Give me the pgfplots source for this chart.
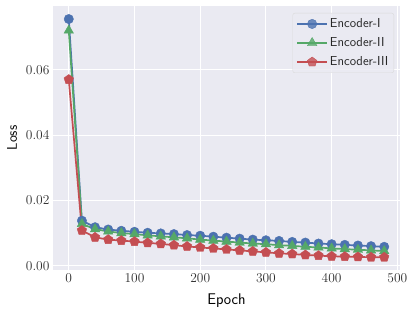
\documentclass[border=0pt]{standalone}
\usepackage{pgfplots}
\pgfplotsset{compat=1.18}
\definecolor{sbblue}{HTML}{4C72B0}
\definecolor{sbgreen}{HTML}{55A868}
\definecolor{sbred}{HTML}{C44E52}
\definecolor{sbbg}{HTML}{EAEAF2}
\begin{document}
\begin{tikzpicture}
\begin{axis}[
  scale only axis, width=347pt, height=264pt,
  xmin=-24, xmax=504, ymin=-0.0013, ymax=0.0795,
  axis background/.style={fill=sbbg},
  axis line style={draw=none},
  grid=major, major grid style={white, line width=1.1pt},
  tick style={draw=none},
  xtick={0,100,200,300,400,500},
  ytick={0,0.02,0.04,0.06},
  /pgf/number format/assume math mode=true,
  yticklabel style={/pgf/number format/fixed, /pgf/number format/fixed zerofill, /pgf/number format/precision=2, font=\fontsize{13.5}{16}\selectfont, text=black!82},
  xticklabel style={font=\fontsize{13.5}{16}\selectfont, text=black!82},
  scaled y ticks=false,
  xlabel={Epoch}, ylabel={Loss},
  xlabel style={font=\fontsize{15.5}{18}\selectfont\sffamily, at={(axis description cs:0.5,-0.115)}, anchor=center},
  ylabel style={font=\fontsize{14}{16}\selectfont\sffamily, at={(axis description cs:-0.118,0.5)}, anchor=center},
  legend style={at={(1,1)}, xshift=-6pt, yshift=-7pt, anchor=north east, draw=black!15, fill=sbbg, fill opacity=0.8, text opacity=1, rounded corners=2pt, font=\fontsize{13}{15}\selectfont\sffamily, row sep=4.5pt, inner sep=3.5pt, text=black!85},
  legend cell align=left,
  legend image code/.code={\draw[line width=1.7pt, mark repeat=2,mark phase=2] plot coordinates {(0cm,0cm) (15pt,0cm) (30pt,0cm)};},
  every axis plot/.append style={line width=1.7pt},
]
\addplot[sbblue, mark=*, mark size=4.7pt, mark options={line width=0.4pt}] coordinates {
(0,0.0755)(20,0.0138)(40,0.0118)(60,0.0111)(80,0.0107)(100,0.0104)(120,0.0101)(140,0.0099)(160,0.0097)(180,0.0094)(200,0.0092)(220,0.0089)(240,0.0086)(260,0.0083)(280,0.0080)(300,0.0078)(320,0.0076)(340,0.0073)(360,0.0071)(380,0.0068)(400,0.0066)(420,0.0064)(440,0.0062)(460,0.0060)(480,0.0058)};
\addlegendentry{Encoder-I}
\addplot[sbgreen, mark=triangle*, mark size=5.5pt, mark options={line width=0.4pt}] coordinates {
(0,0.0720)(20,0.0128)(40,0.0112)(60,0.0105)(80,0.0100)(100,0.0097)(120,0.0093)(140,0.0090)(160,0.0087)(180,0.0084)(200,0.0080)(220,0.0077)(240,0.0074)(260,0.0071)(280,0.0068)(300,0.0066)(320,0.0063)(340,0.0061)(360,0.0058)(380,0.0056)(400,0.0053)(420,0.0051)(440,0.0049)(460,0.0047)(480,0.0045)};
\addlegendentry{Encoder-II}
\addplot[sbred, mark=pentagon*, mark size=5pt, mark options={line width=0.4pt}] coordinates {
(0,0.0570)(20,0.0108)(40,0.0087)(60,0.0080)(80,0.0077)(100,0.0074)(120,0.0070)(140,0.0067)(160,0.0063)(180,0.0059)(200,0.0056)(220,0.0053)(240,0.0050)(260,0.0047)(280,0.0044)(300,0.0041)(320,0.0038)(340,0.0036)(360,0.0033)(380,0.0031)(400,0.0029)(420,0.0028)(440,0.0027)(460,0.0026)(480,0.0026)};
\addlegendentry{Encoder-III}
\end{axis}
\path (-53pt,-42pt) rectangle (362pt,270pt);
\end{tikzpicture}
\end{document}
